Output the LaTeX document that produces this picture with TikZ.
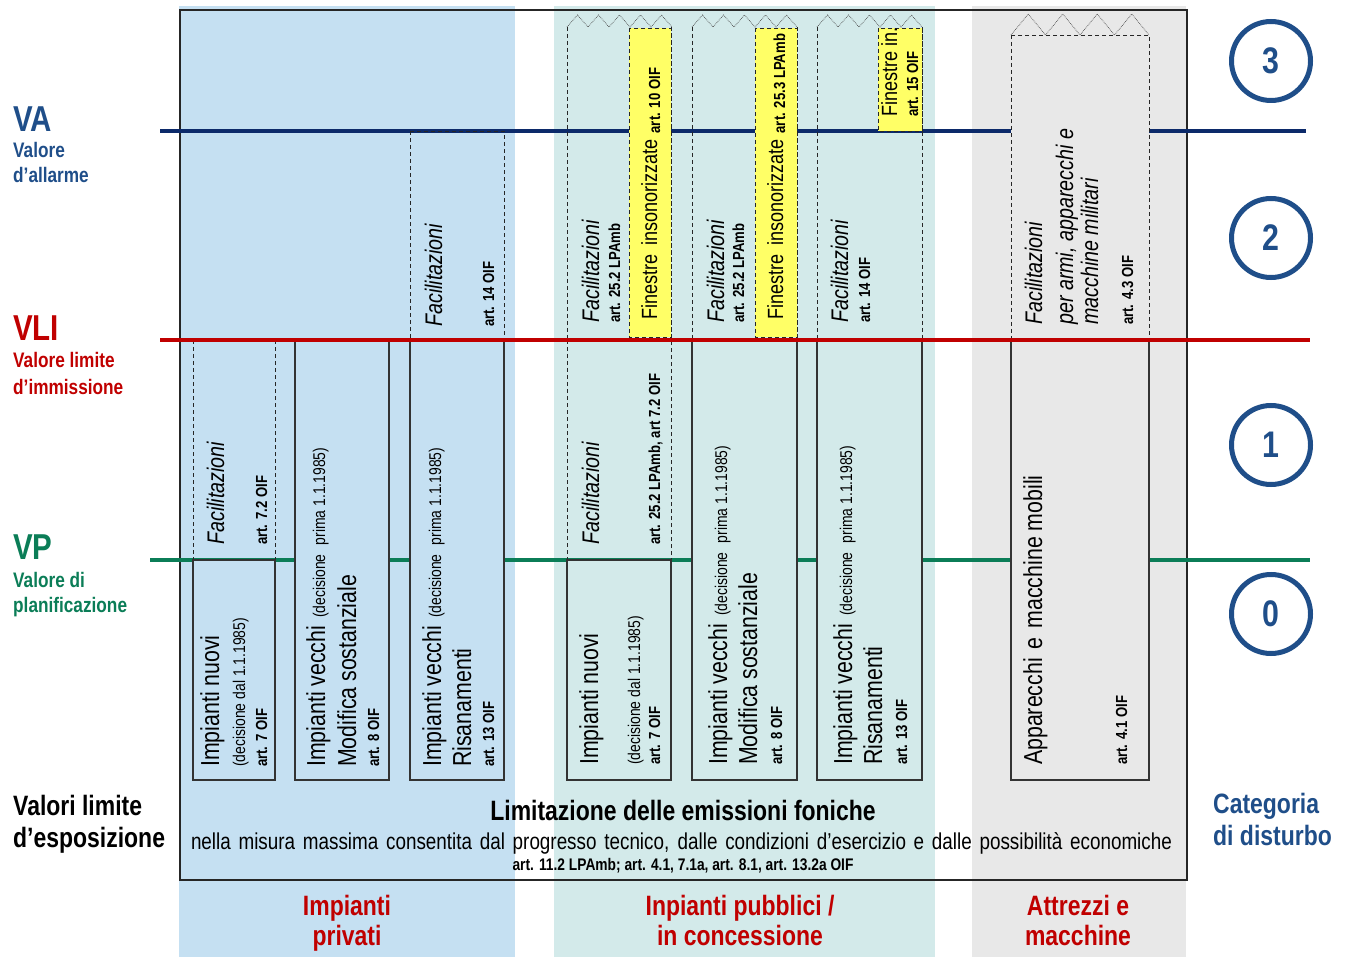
\documentclass[tikz,border=0pt]{standalone}
\usepackage{fontspec}
\setmainfont{Liberation Sans}[FakeStretch=0.82]
\definecolor{colpriv}{HTML}{C5E0F2}
\definecolor{colpub}{HTML}{D3EAEA}
\definecolor{colmach}{HTML}{E8E8E8}
\definecolor{winyellow}{HTML}{FFFF66}
\definecolor{valine}{HTML}{0C2A6A}
\definecolor{labelblue}{HTML}{1F4E89}
\definecolor{vlired}{HTML}{C00000}
\definecolor{vpgreen}{HTML}{0B7D57}
\newcommand{\fs}[1]{\fontsize{#1}{#1}\selectfont}
\tikzset{
  limitline/.style={line width=3.2pt},
  solidbox/.style={draw=black!80, line width=1.1pt},
  dashbox/.style={draw=black!85, line width=0.9pt, dash pattern=on 4pt off 3pt},
  zig/.style={draw=black!70, line width=0.7pt, densely dotted},
  vt/.style={rotate=90, anchor=base west, inner sep=0pt},
  big/.style={font=\fs{26}},
  fac/.style={font=\fs{24}\itshape},
  dec/.style={font=\fs{17}},
  art/.style={font=\fs{16}\bfseries},
  win/.style={font=\fs{22}},
  lab/.style={anchor=base west, inner sep=0pt, font=\fs{21}\bfseries},
  abbr/.style={anchor=base west, inner sep=0pt, font=\fs{36}\bfseries},
  cat/.style={circle, draw=labelblue, line width=5pt, minimum size=79pt, inner sep=0pt,
              text=labelblue, font=\fs{37}\bfseries},
  group/.style={anchor=base, inner sep=0pt, text=vlired, font=\fs{28}\bfseries},
}
\begin{document}
\begin{tikzpicture}[x=1pt, y=-1pt]
\useasboundingbox (0,0) rectangle (1349,957);

% column backgrounds
\fill[colpriv] (179,6) rectangle (515,957);
\fill[colpub]  (554,6) rectangle (935,957);
\fill[colmach] (972,6) rectangle (1186,957);

% frame of the emission limits
\draw[black!85, line width=1.2pt] (180,10) rectangle (1187,880);

% alarm and planning values
\draw[limitline, valine] (160,131) -- (1306,131);
\draw[limitline, vpgreen] (150,560) -- (1310,560);

% relief areas, private installations
\draw[dashbox] (193,340) rectangle (275,560);
\draw[dashbox] (410,131) rectangle (504,340);

% relief areas, public installations
\foreach \xa/\xb in {567/671, 692/797, 817/922}{
  \draw[dashbox] (\xa,27) -- (\xa,340);
  \draw[dashbox] (\xb,27) -- (\xb,340);
  \draw[zig] (\xa,27) \foreach \k in {1,...,5}{ -- ++(10.5,-12) -- ++(10.5,12)};
}
\draw[dashbox] (567,340) rectangle (671,560);
\draw[dashbox, fill=winyellow] (629,28) rectangle (671,337);
\draw[dashbox, fill=winyellow] (755,28) rectangle (797,337);
\draw[dashbox, fill=winyellow] (878,28) rectangle (922,131);

% relief area, machines
\draw[dashbox, fill=colmach] (1011,35) rectangle (1149,340);
\draw[zig] (1011,35) \foreach \k in {1,...,4}{ -- ++(17.25,-21) -- ++(17.25,21)};

% installation boxes
\draw[solidbox, fill=colpriv] (193,560) rectangle (275,780);
\draw[solidbox, fill=colpriv] (295,340) rectangle (389,780);
\draw[solidbox, fill=colpriv] (410,340) rectangle (504,780);
\draw[solidbox, fill=colpub] (567,560) rectangle (671,780);
\draw[solidbox, fill=colpub] (692,340) rectangle (797,780);
\draw[solidbox, fill=colpub] (817,340) rectangle (922,780);
\draw[solidbox, fill=colmach] (1011,340) rectangle (1149,780);

% immission limit value
\draw[limitline, vlired] (160,340) -- (1310,340);

% texts, private installations
\node[vt,big] (pn1) at (219,767) {Impianti nuovi};
\node[vt,dec] (pn2) at (245,767) {(decisione dal 1.1.1985)};
\node[vt,art] (pn3) at (267,767) {art. 7 OIF};
\node[vt,fac] (pf1) at (224,545) {Facilitazioni};
\node[vt,art] (pf2) at (267,545) {art. 7.2 OIF};
\node[vt,big] (pm1) at (325,767) {Impianti vecchi\hspace{8pt}{\fs{17}(decisione\hspace{9pt}prima 1.1.1985)}};
\node[vt,big] (pm2) at (356,767) {Modifica sostanziale};
\node[vt,art] (pm3) at (379,767) {art. 8 OIF};
\node[vt,big] (pr1) at (441,767) {Impianti vecchi\hspace{8pt}{\fs{17}(decisione\hspace{9pt}prima 1.1.1985)}};
\node[vt,big] (pr2) at (471,767) {Risanamenti};
\node[vt,art] (pr3) at (494,767) {art. 13 OIF};
\node[vt,fac] (pg1) at (442,327) {Facilitazioni};
\node[vt,art] (pg2) at (494,327) {art. 14 OIF};

% texts, public installations
\node[vt,big] (qn1) at (598,765) {Impianti nuovi};
\node[vt,dec] (qn2) at (640,765) {(decisione dal 1.1.1985)};
\node[vt,art] (qn3) at (660,765) {art. 7 OIF};
\node[vt,fac] (qf1) at (599,545) {Facilitazioni};
\node[vt,art] (qf2) at (660,545) {art. 25.2 LPAmb, art 7.2 OIF};
\node[vt,fac] (qu1) at (599,323) {Facilitazioni};
\node[vt,art] (qu2) at (620,323) {art. 25.2 LPAmb};
\node[vt,win] (qw1) at (657,320) {Finestre\hspace{9pt}insonorizzate\hspace{6pt}\raisebox{-3pt}{\fs{16}\bfseries art. 10 OIF}};
\node[vt,big] (qm1) at (727,765) {Impianti vecchi\hspace{8pt}{\fs{17}(decisione\hspace{9pt}prima 1.1.1985)}};
\node[vt,big] (qm2) at (757,765) {Modifica sostanziale};
\node[vt,art] (qm3) at (782,765) {art. 8 OIF};
\node[vt,fac] (qv1) at (724,323) {Facilitazioni};
\node[vt,art] (qv2) at (744,323) {art. 25.2 LPAmb};
\node[vt,win] (qw2) at (783,320) {Finestre\hspace{9pt}insonorizzate\hspace{6pt}\raisebox{-2pt}{\fs{16}\bfseries art. 25.3 LPAmb}};
\node[vt,big] (qr1) at (852,765) {Impianti vecchi\hspace{8pt}{\fs{17}(decisione\hspace{9pt}prima 1.1.1985)}};
\node[vt,big] (qr2) at (882,765) {Risanamenti};
\node[vt,art] (qr3) at (907,765) {art. 13 OIF};
\node[vt,fac] (qg1) at (848,323) {Facilitazioni};
\node[vt,art] (qg2) at (870,323) {art. 14 OIF};
\node[vt,win] (qw3) at (897,117) {Finestre in.};
\node[vt,art] (qw4) at (918,117) {art. 15 OIF};

% texts, machines
\node[vt,big] (ma1) at (1042,765) {Apparecchi\hspace{9pt}e\hspace{9pt}macchine mobili};
\node[vt,art] (ma2) at (1127,765) {art. 4.1 OIF};
\node[vt,fac] (mf1) at (1042,325) {Facilitazioni};
\node[vt,fac] (mf2) at (1073,325) {per armi, apparecchi e};
\node[vt,fac] (mf3) at (1098,325) {macchine militari};
\node[vt,art] (mf4) at (1133,325) {art. 4.3 OIF};

% emission limitation
\node[anchor=base, inner sep=0pt, font=\fs{28}\bfseries] (em1) at (683,820) {Limitazione delle emissioni foniche};
\node[anchor=base, inner sep=0pt, font=\fs{23}] (em2) at (681.5,849)
  {\makebox[981pt][s]{nella misura massima consentita dal progresso tecnico, dalle condizioni d’esercizio e dalle possibilità economiche}};
\node[anchor=base, inner sep=0pt, font=\fs{16.8}\bfseries] (em3) at (683,870) {art. 11.2 LPAmb; art. 4.1, 7.1a, art. 8.1, art. 13.2a OIF};

% group captions
\node[group] (g1a) at (347,915) {Impianti};
\node[group] (g1b) at (347,945) {privati};
\node[group] (g2a) at (740,915) {Inpianti pubblici /};
\node[group] (g2b) at (740,945) {in concessione};
\node[group] (g3a) at (1078,915) {Attrezzi e};
\node[group] (g3b) at (1078,945) {macchine};

% limit value labels
\node[abbr, text=labelblue] (va) at (13,132) {VA};
\node[lab, text=labelblue] (va1) at (13,158) {Valore};
\node[lab, text=labelblue] (va2) at (13,183) {d’allarme};
\node[abbr, text=vlired] (vli) at (13,341) {VLI};
\node[lab, text=vlired] (vli1) at (13,368) {Valore limite};
\node[lab, text=vlired] (vli2) at (13,394) {d’immissione};
\node[abbr, text=vpgreen] (vp) at (13,559) {VP};
\node[lab, text=vpgreen] (vp1) at (13,587) {Valore di};
\node[lab, text=vpgreen] (vp2) at (13,612) {planificazione};
\node[anchor=base west, inner sep=0pt, font=\fs{28}\bfseries] (ve1) at (13,815) {Valori limite};
\node[anchor=base west, inner sep=0pt, font=\fs{28}\bfseries] (ve2) at (13,847) {d’esposizione};

% disturbance categories
\node[cat] (c3) at (1271,61) {3};
\node[cat] (c2) at (1271,238) {2};
\node[cat] (c1) at (1271,445) {1};
\node[cat] (c0) at (1271,614) {0};
\node[anchor=base west, inner sep=0pt, text=labelblue, font=\fs{28}\bfseries] (cd1) at (1213,813) {Categoria};
\node[anchor=base west, inner sep=0pt, text=labelblue, font=\fs{28}\bfseries] (cd2) at (1213,845) {di disturbo};
\end{tikzpicture}
\end{document}
